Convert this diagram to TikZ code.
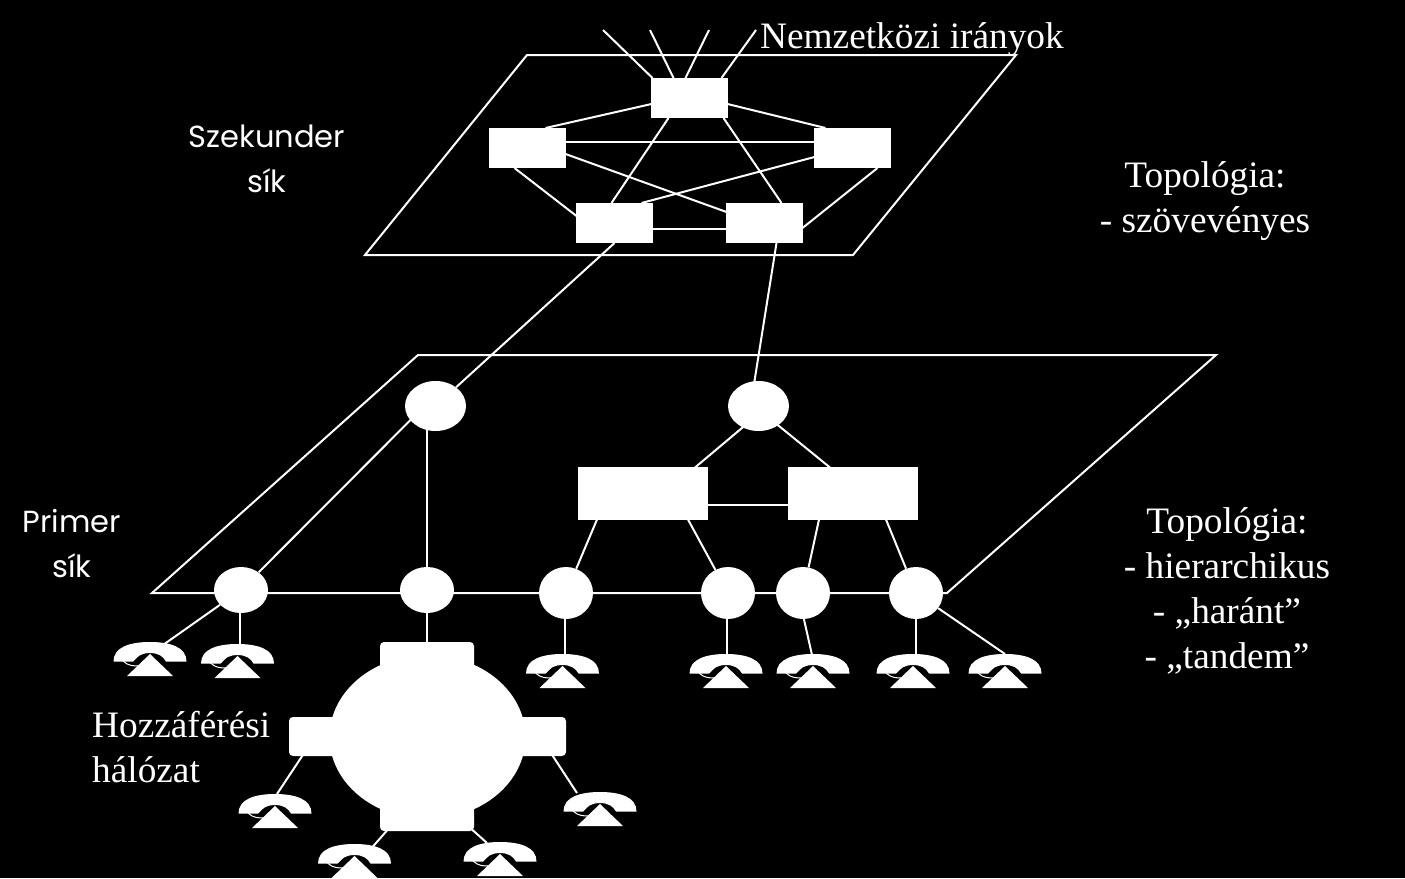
\documentclass[tikz,border=0pt]{standalone}
\usepackage{fontspec}
\setmainfont{Liberation Serif}
\newfontfamily\silabel{Poppins}
\usetikzlibrary{shapes.geometric}
\tikzset{
  vonal/.style={draw=white, line width=2pt},
  kpont/.style={fill=white, inner sep=0pt, minimum width=77pt, minimum height=40pt},
  ppont/.style={fill=white, inner sep=0pt, minimum width=130pt, minimum height=53pt},
  kor/.style={ellipse, fill=white, inner sep=0pt, minimum width=54pt, minimum height=52pt},
  nkor/.style={ellipse, fill=white, inner sep=0pt, minimum width=61pt, minimum height=50pt},
  kereszt/.style={fill=white, inner sep=0pt, rounded corners=4pt},
  felirat/.style={text=white, inner sep=0pt, align=center, font=\fontsize{37.3}{45}\selectfont},
  sikfelirat/.style={text=white, inner sep=0pt, align=center, font=\silabel\fontsize{30.5}{45}\selectfont},
  telefon/.pic={
    \fill[white] (-36.5,19.5) .. controls (-36.5,5) and (-20,0) .. (0,0)
      .. controls (20,0) and (36.5,5) .. (36.5,19.5) -- (16,19.5)
      .. controls (13,14) and (8,11) .. (0,11)
      .. controls (-8,11) and (-13,14) .. (-17,19.5) -- cycle;
    \fill[white] (0,12) -- (23,34) -- (-23,34) -- cycle;
    \draw[white, line width=1pt] (-27,19) .. controls (-22,24) and (-16,24) .. (-11,24);
    \draw[white, line width=1pt] (-17,19) .. controls (-14,16) and (-12,14) .. (-10,12);
  }
}
\begin{document}
\begin{tikzpicture}[x=1pt, y=-1pt]
  \fill[black] (0,0) rectangle (1405,878);
  \useasboundingbox (0,0) rectangle (1405,878);

  \draw[vonal] (527,55) -- (1016,55) -- (853,255) -- (365,255) -- cycle;
  \draw[vonal] (418,355) -- (1216,355) -- (947,593) -- (152,593) -- cycle;

  \node[kpont] (top) at (689.5,98) {};
  \node[kpont] (left) at (527.5,148) {};
  \node[kpont] (right) at (852.5,148) {};
  \node[kpont] (bl) at (614.5,223) {};
  \node[kpont] (br) at (764.5,223) {};

  \coordinate (ir1) at (603,30);
  \coordinate (ir2) at (650,30);
  \coordinate (ir3) at (709,30);
  \coordinate (ir4) at (756,30);

  \node[nkor] (e1) at (435.5,406) {};
  \node[nkor] (e2) at (758.5,406) {};
  \node[ppont] (r1) at (643,493.5) {};
  \node[ppont] (r2) at (853,493.5) {};

  \node[kor, minimum height=46pt] (c1) at (241,590) {};
  \node[kor, minimum height=46pt] (c2) at (427,590) {};
  \node[kor] (c3) at (566,593) {};
  \node[kor] (c4) at (728,593) {};
  \node[kor] (c5) at (803,593) {};
  \node[kor] (c6) at (916,593) {};

  \node[ellipse, fill=white, inner sep=0pt, minimum width=196pt, minimum height=164pt] (acc) at (427.5,737) {};
  \node[kereszt, minimum width=94pt, minimum height=189pt] (accv) at (427,736.5) {};
  \node[kereszt, minimum width=277pt, minimum height=39pt] (acch) at (427.5,736.5) {};

  \coordinate (ph1) at (150,642);
  \coordinate (ph2) at (237.5,644);
  \coordinate (ph3) at (562.5,654);
  \coordinate (ph4) at (726,654);
  \coordinate (ph5) at (813,654);
  \coordinate (ph6) at (913,654);
  \coordinate (ph7) at (1005,654);
  \coordinate (ph8) at (275,794);
  \coordinate (ph9) at (600,792);
  \coordinate (ph10) at (354.5,844);
  \coordinate (ph11) at (500,842);

  \pic at (ph1) {telefon};
  \pic at (ph2) {telefon};
  \pic at (ph3) {telefon};
  \pic at (ph4) {telefon};
  \pic at (ph5) {telefon};
  \pic at (ph6) {telefon};
  \pic at (ph7) {telefon};
  \pic at (ph8) {telefon};
  \pic at (ph9) {telefon};
  \pic at (ph10) {telefon};
  \pic at (ph11) {telefon};

  \draw[vonal] (ir1) -- ([shift={(-37,-20)}]top.center);
  \draw[vonal] (ir2) -- ([shift={(-16,-20)}]top.center);
  \draw[vonal] (ir3) -- ([shift={(-4,-20)}]top.center);
  \draw[vonal] (ir4) -- ([shift={(32,-20)}]top.center);

  \draw[vonal] ([shift={(-38,6)}]top.center) -- ([shift={(18,-20)}]left.center);
  \draw[vonal] ([shift={(38,6)}]top.center) -- ([shift={(-27,-20)}]right.center);
  \draw[vonal] ([shift={(-21,20)}]top.center) -- ([shift={(-3,-20)}]bl.center);
  \draw[vonal] ([shift={(34,20)}]top.center) -- ([shift={(17,-20)}]br.center);
  \draw[vonal] ([shift={(0,-6)}]left.center) -- ([shift={(0,-6)}]right.center);
  \draw[vonal] ([shift={(38,6)}]left.center) -- ([shift={(-38,-11)}]br.center);
  \draw[vonal] ([shift={(-38,9)}]right.center) -- ([shift={(27,-20)}]bl.center);
  \draw[vonal] ([shift={(-13,20)}]left.center) -- ([shift={(-38,-7)}]bl.center);
  \draw[vonal] ([shift={(25,20)}]right.center) -- ([shift={(38,5)}]br.center);
  \draw[vonal] ([shift={(0,6)}]bl.center) -- ([shift={(0,6)}]br.center);

  \draw[vonal] ([shift={(0,20)}]bl.center) -- (e1);
  \draw[vonal] ([shift={(12,20)}]br.center) -- ([shift={(-8,0)}]e2.center);
  \draw[vonal] ([shift={(-13,19)}]e2.center) -- ([shift={(52,-26)}]r1.center);
  \draw[vonal] ([shift={(18,18)}]e2.center) -- ([shift={(-23,-26)}]r2.center);
  \draw[vonal] ([shift={(0,11)}]r1.center) -- ([shift={(0,11)}]r2.center);
  \draw[vonal] (e1.center -| c2) -- (c2);
  \draw[vonal] ([shift={(-23,12)}]e1.center) -- (c1);

  \draw[vonal] ([shift={(-46,26)}]r1.center) -- (c3);
  \draw[vonal] ([shift={(45,26)}]r1.center) -- (c4);
  \draw[vonal] ([shift={(-34,26)}]r2.center) -- (c5);
  \draw[vonal] ([shift={(33,26)}]r2.center) -- (c6);

  \draw[vonal] (c1) -- ([shift={(13,3)}]ph1);
  \draw[vonal] ([xshift=-1]c1.center) -- ([xshift=2.5]ph2);
  \draw[vonal] ([xshift=-1]c3.center) -- ([xshift=2.5]ph3);
  \draw[vonal] ([xshift=-1]c4.center) -- ([xshift=1]ph4);
  \draw[vonal] ([shift={(0,22)}]c5.center) -- ([shift={(-1,1)}]ph5);
  \draw[vonal] (c6) -- ([xshift=3]ph6);
  \draw[vonal] (c6) -- (ph7);
  \draw[vonal] (c2) -- (accv);

  \draw[vonal] ([shift={(-125,19)}]acch.center) -- ([shift={(2,0)}]ph8);
  \draw[vonal] ([shift={(125,19)}]acch.center) -- ([shift={(-23,1)}]ph9);
  \draw[vonal] ([shift={(-40,94)}]accv.center) -- ([shift={(18,3)}]ph10);
  \draw[vonal] ([shift={(45,93)}]accv.center) -- ([shift={(-13,1)}]ph11);

  \node[felirat, anchor=west] (irany) at (760,40) {Nemzetközi irányok};
  \node[sikfelirat] (szek) at (267,159) {Szekunder\\sík};
  \node[felirat] (top1) at (1205,201) {Topológia:\\- szövevényes};
  \node[sikfelirat] (prim) at (72,544) {Primer\\sík};
  \node[felirat] (top2) at (1227,591) {Topológia:\\- hierarchikus\\- „haránt”\\- „tandem”};
  \node[felirat, align=left, anchor=west] (hozz) at (92,747) {Hozzáférési\\hálózat};
\end{tikzpicture}
\end{document}
